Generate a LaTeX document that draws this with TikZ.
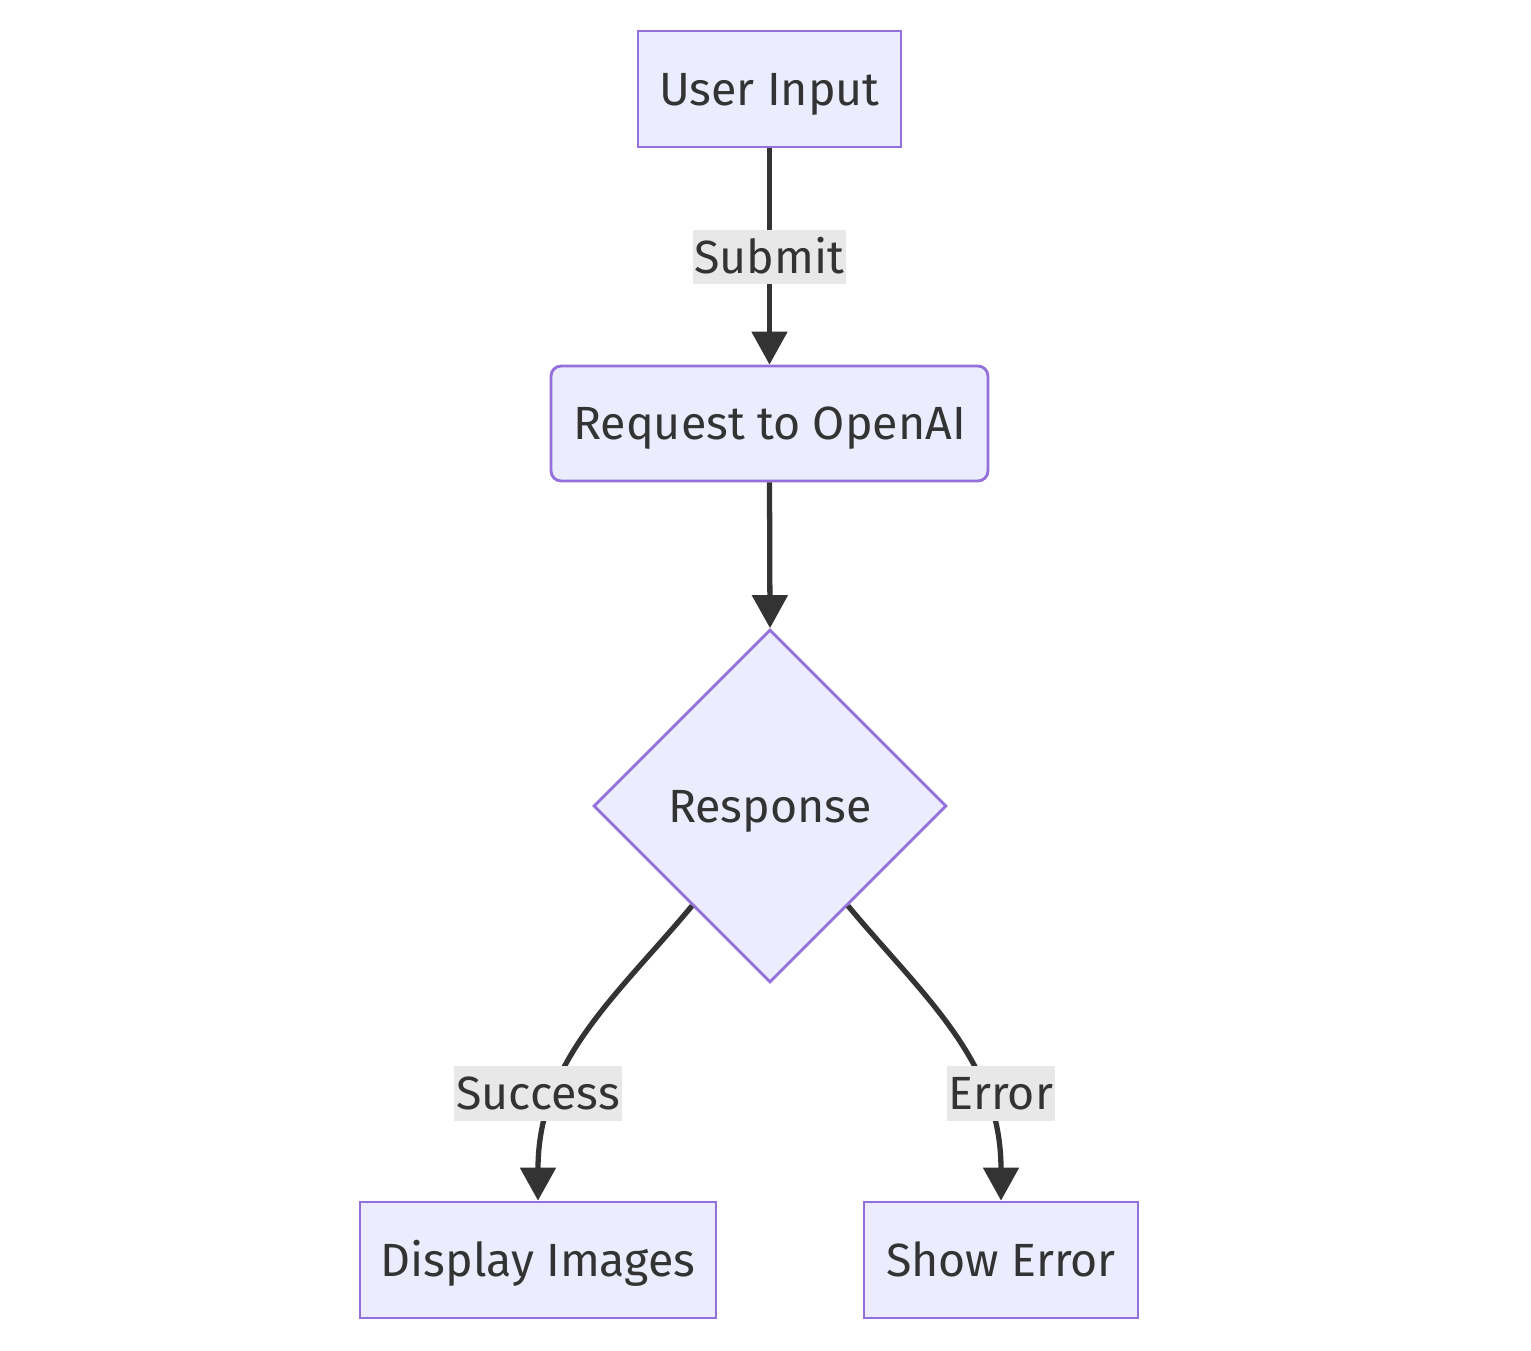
\documentclass[tikz,border=0pt]{standalone}
\usepackage{fontspec}
\setmainfont{Fira Sans}
\usetikzlibrary{arrows.meta,shapes.geometric}
\definecolor{boxfill}{HTML}{ECECFF}
\definecolor{boxline}{HTML}{9370DB}
\definecolor{edgeline}{HTML}{333333}
\definecolor{labelbg}{HTML}{E8E8E8}
\begin{document}
\begin{tikzpicture}[x=0.02cm,y=0.02cm,
	every node/.style={font=\fontsize{26.5}{32}\selectfont, text=edgeline, text height=18.3pt, text depth=0pt},
	box/.style={draw=boxline, fill=boxfill, line width=1.6pt, minimum height=2.32cm, inner sep=0pt},
	decision/.style={diamond, draw=boxline, fill=boxfill, line width=1.6pt, minimum width=7.06cm, minimum height=7.06cm, inner sep=0pt},
	lbl/.style={fill=labelbg, minimum height=1.1cm, inner xsep=1pt, inner ysep=0pt},
	flow/.style={draw=edgeline, line width=3pt, -{Triangle[length=0.66cm,width=0.7cm]}}]
	\useasboundingbox (0,0) rectangle (1531,-1351);
	% nodes
	\node[box, minimum width=5.26cm] (user) at (769.5,-89) {User Input};
	\node[box, rounded corners=0.2cm, minimum width=8.74cm, minimum height=2.3cm] (req) at (769.5,-423.5) {Request to OpenAI};
	\node[decision] (resp) at (770,-806) {Response};
	\node[box, minimum width=7.12cm] (disp) at (538,-1260) {Display Images};
	\node[box, minimum width=5.48cm] (err) at (1001,-1260) {Show Error};
	% edges
	\draw[flow] (user.south) -- (req.north);
	\draw[flow] (req.south) -- (resp.north);
	\draw[flow] (resp.-128) .. controls +(-75,-90) and +(0,140) .. (disp.north);
	\draw[flow] (resp.-52) .. controls +(75,-90) and +(0,140) .. (err.north);
	% edge labels
	\node[lbl] (submit) at (769.5,-257) {Submit};
	\node[lbl] (success) at (538,-1093) {Success};
	\node[lbl] (error) at (1001,-1093) {Error};
\end{tikzpicture}
\end{document}
